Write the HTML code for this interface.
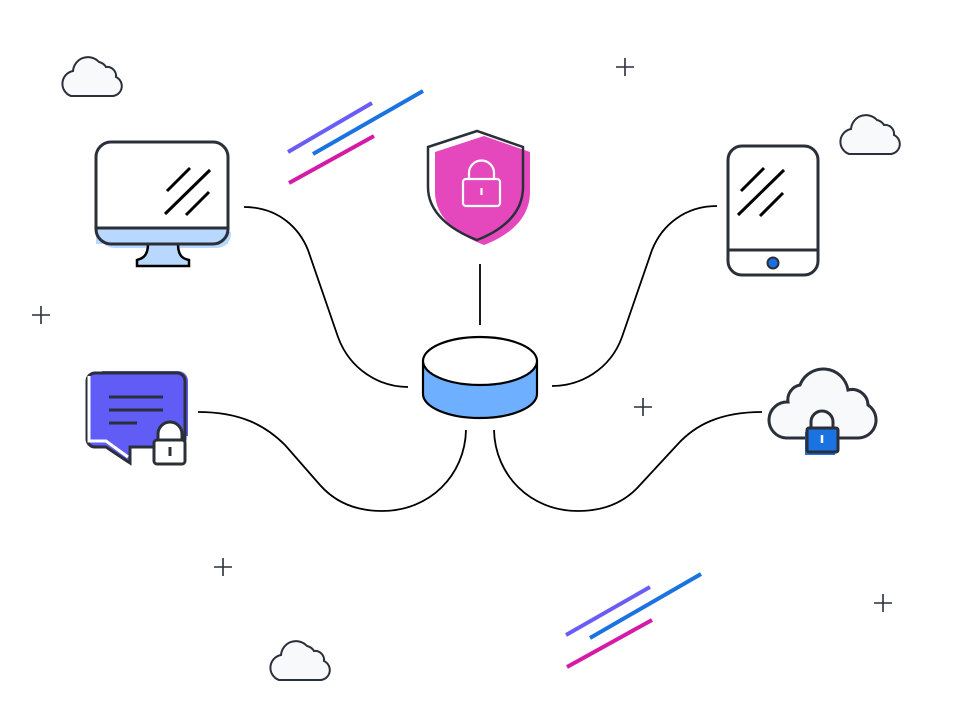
<!DOCTYPE html>
<html><head><meta charset="utf-8"><style>html,body{margin:0;padding:0;background:#fff}svg{display:block}</style></head><body>
<svg width="960" height="720" viewBox="0 0 960 720" xmlns="http://www.w3.org/2000/svg">
<defs>
<path id="cl" d="M10,43 H52 A10,10 0 0 0 55,24 A9,9 0 0 0 45,14 A11,11 0 0 0 38,9 A15,15 0 0 0 12,18 A13,13 0 0 0 10,43 Z" fill="#f8f9fb" stroke="#2a2f3a" stroke-width="2"/>
</defs>
<use href="#cl" x="61" y="53"/>
<use href="#cl" x="839" y="111"/>
<use href="#cl" x="269" y="637"/>
<g stroke="#2a2f3a" stroke-width="1.6">
<path d="M616,67h18M625,58v18"/><path d="M32,315h18M41,306v18"/><path d="M634,407h18M643,398v18"/><path d="M214,567h18M223,558v18"/><path d="M874,603h18M883,594v18"/>
</g>
<g stroke-width="4" stroke-linecap="butt">
<line x1="288" y1="152" x2="372" y2="103" stroke="#6a5cf5"/>
<line x1="313" y1="154" x2="423" y2="91" stroke="#1a73e0"/>
<line x1="289" y1="183" x2="374" y2="136" stroke="#d61aa8"/>
<line x1="566" y1="635" x2="650" y2="587" stroke="#6a5cf5"/>
<line x1="590" y1="638" x2="701" y2="574" stroke="#1a73e0"/>
<line x1="567" y1="667" x2="652" y2="620" stroke="#d61aa8"/>
</g>
<g fill="none" stroke="#000" stroke-width="1.8">
<path d="M244,207 C280,207 300,230 308,250 L338,337 C350,370 380,387 408,387"/>
<path d="M717,206 C685,206 662,225 652,250 L622,337 C610,370 580,386 552,386"/>
<path d="M480,264 V325"/>
<path d="M198,412 C240,412 265,425 285,445 L320,485 C335,502 355,511 382,511 C430,511 465,475 466,430"/>
<path d="M762,412 C720,412 695,425 677,445 L640,485 C625,502 605,511 578,511 C530,511 495,475 494,430"/>
</g>
<path d="M423,361 V394 A57,24 0 0 0 537,394 V361" fill="#6eb0ff" stroke="#000" stroke-width="2.2"/>
<ellipse cx="480" cy="361" rx="57" ry="24" fill="#fff" stroke="#000" stroke-width="2.2"/>
<path d="M435,152 L484,136 L530,152 V192 C530,218 510,235 484,245 C458,235 435,218 435,192 Z" fill="#e548bd"/>
<path d="M428,147 L477,131 L523,147 V187 C523,213 503,230 477,240 C451,230 428,213 428,187 Z" fill="none" stroke="#2a2f3a" stroke-width="2.5"/>
<rect x="463" y="179" width="37" height="27" rx="3" fill="none" stroke="#fff" stroke-width="2.2"/>
<path d="M469,179 V173 A12.5,12.5 0 0 1 494,173 V179" fill="none" stroke="#fff" stroke-width="2.2"/>
<line x1="481.5" y1="188" x2="481.5" y2="195" stroke="#fff" stroke-width="2.2"/>
<path d="M100,232 H231 V234 A14,14 0 0 1 217,248 H114 A14,14 0 0 1 100,234 Z" fill="#b8d8ff"/>
<rect x="96" y="228" width="132" height="16" fill="#b8d8ff"/>
<path d="M148,244 C148,258 140,259 137,260 V266 H189 V260 C185,259 178,258 178,244 Z" fill="#b8d8ff" stroke="#000" stroke-width="2.5"/>
<rect x="96" y="142" width="132" height="102" rx="15" fill="none" stroke="#2a2f3a" stroke-width="3"/>
<line x1="96" y1="228" x2="228" y2="228" stroke="#2a2f3a" stroke-width="3"/>
<g stroke="#000" stroke-width="3"><line x1="167" y1="191" x2="190" y2="168"/><line x1="165" y1="214" x2="210" y2="170"/><line x1="186" y1="215" x2="209" y2="192"/></g>
<rect x="728" y="146" width="90" height="129" rx="14" fill="#fff" stroke="#2a2f3a" stroke-width="3"/>
<line x1="728" y1="250" x2="818" y2="250" stroke="#2a2f3a" stroke-width="3"/>
<circle cx="773" cy="263" r="5.5" fill="#1a6fe0" stroke="#2a2f3a" stroke-width="2"/>
<g stroke="#000" stroke-width="3"><line x1="741" y1="191" x2="764" y2="168"/><line x1="738" y1="215" x2="784" y2="170"/><line x1="760" y1="216" x2="783" y2="193"/></g>
<path d="M102,371 H178 A10,10 0 0 1 188,381 V436 H102 Z" fill="#615cf5"/>
<path d="M97,372 H177 A8,8 0 0 1 185,380 V439 A8,8 0 0 1 177,447 H130 V463 L106,447 H95 A8,8 0 0 1 87,439 V380 A8,8 0 0 1 95,372 Z" fill="#615cf5"/>
<path d="M97,373 H177 A8,8 0 0 1 185,381 V439 A8,8 0 0 1 177,447 H130 V463 L106,447 H95 A8,8 0 0 1 87,439 V381 A8,8 0 0 1 95,373 Z" fill="none" stroke="#2a2f3a" stroke-width="3"/>
<path d="M89,376 V441 H106 L128,457" fill="none" stroke="#fff" stroke-width="3"/>
<g stroke="#2a2f3a" stroke-width="3"><line x1="109" y1="397" x2="163" y2="397"/><line x1="109" y1="410" x2="163" y2="410"/><line x1="109" y1="423" x2="137" y2="423"/></g>
<path d="M158,440 V434 A12,12 0 0 1 182,434 V440" fill="#fff" stroke="#2a2f3a" stroke-width="3"/>
<rect x="154" y="440" width="31" height="24" rx="3" fill="#fff" stroke="#2a2f3a" stroke-width="3"/>
<line x1="170" y1="447" x2="170" y2="456" stroke="#2a2f3a" stroke-width="3"/>
<path d="M786,438 H858 A18,18 0 0 0 868,405 A16,16 0 0 0 848,390 A25,25 0 0 0 800,385 A15,15 0 0 0 788,402 A18,18 0 0 0 786,438 Z" fill="#f8f9fb" stroke="#2a2f3a" stroke-width="3"/>
<path d="M811,428 V422 A10,10 0 0 1 833,422 V428" fill="#f8f9fb" stroke="#2a2f3a" stroke-width="3"/>
<rect x="805" y="432" width="30" height="23" fill="#1a73e0"/>
<rect x="807" y="428" width="31" height="24" rx="2" fill="#1a73e0" stroke="#2a2f3a" stroke-width="3"/>
<line x1="822" y1="435" x2="822" y2="443" stroke="#fff" stroke-width="2.5"/>
</svg>
</body></html>
